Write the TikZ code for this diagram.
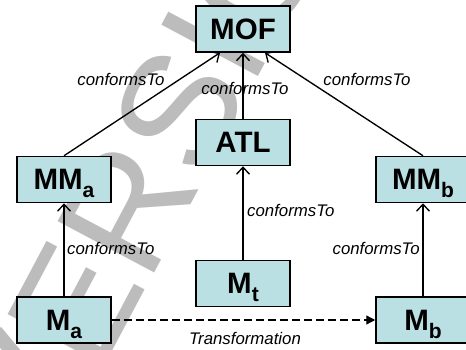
\documentclass[tikz,border=0pt]{standalone}
\usepackage{fontspec}
\setmainfont{Liberation Sans}
\usetikzlibrary{arrows.meta}

\definecolor{boxfill}{RGB}{186,224,227}
\definecolor{stampgray}{RGB}{188,188,188}

% subscript hung below the baseline without changing the box height
\newcommand\lowsub[1]{\raisebox{-8pt}[0pt][0pt]{\fontsize{21}{21}\selectfont #1}}

\tikzset{
  model/.style={draw=black, line width=1.5pt, fill=boxfill,
    minimum width=94pt, minimum height=46pt, inner sep=0pt,
    font=\fontsize{29.5}{30}\selectfont\bfseries},
  conf/.style={line width=1.35pt, -{Straight Barb[length=7pt,width=13pt,line width=1.35pt]}},
  trans/.style={line width=1.35pt, dash pattern=on 8pt off 4pt,
    -{Triangle[length=9pt,width=9pt]}},
  lbl/.style={font=\fontsize{16.8}{17}\selectfont\itshape, inner sep=0pt},
  stamptext/.style={text=stampgray, inner sep=0pt, font=\fontsize{159}{159}\selectfont}
}

\begin{document}
\begin{tikzpicture}[x=1pt, y=-1pt]
  \useasboundingbox (0,0) rectangle (466,350);
  \clip (0,0) rectangle (466,350);

  % background stamp
  \node[stamptext, anchor=base west, rotate=62] (stamp) at (48.6,471.7) {VERSION};

  % models
  \node[model] (MOF) at (243,29)    {MOF};
  \node[model] (ATL) at (243,142.5) {ATL};
  \node[model] (MMa) at (64,179.5)  {MM\lowsub{a}};
  \node[model] (MMb) at (423,179.5) {MM\lowsub{b}};
  \node[model] (Mt)  at (243,283.5) {M\lowsub{t}};
  \node[model] (Ma)  at (64,320)    {M\lowsub{a}};
  \node[model] (Mb)  at (423,320)   {M\lowsub{b}};

  % conformsTo relations
  \draw[conf] (MMa.north) -- ([xshift=-23pt]MOF.south);
  \draw[conf] (ATL.north) -- (MOF.south);
  \draw[conf] (MMb.north) -- ([xshift=22pt]MOF.south);
  \draw[conf] (Ma.north) -- (MMa.south);
  \draw[conf] (Mt.north) -- (ATL.south);
  \draw[conf] (Mb.north) -- (MMb.south);

  % transformation
  \draw[trans] (Ma.east) -- (Mb.west);

  % labels
  \node[lbl] (l1) at (121,79) {conformsTo};
  \node[lbl] (l2) at (245,88) {conformsTo};
  \node[lbl] (l3) at (367,79) {conformsTo};
  \node[lbl, anchor=west] (l4) at (67,248)  {conformsTo};
  \node[lbl, anchor=west] (l5) at (247,210) {conformsTo};
  \node[lbl, anchor=east] (l6) at (420,248) {conformsTo};
  \node[lbl] (l7) at (245,338.5) {Transformation};
\end{tikzpicture}
\end{document}
